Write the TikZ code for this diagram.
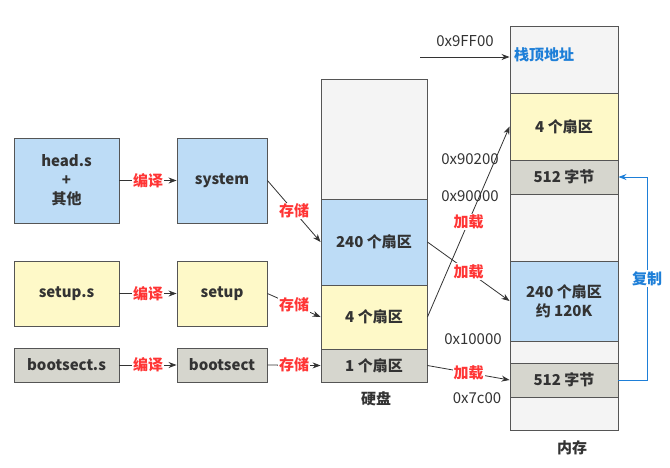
\documentclass[tikz,border=0pt]{standalone}
\usepackage{fontspec}
\setmainfont{Noto Sans CJK SC}
\usetikzlibrary{arrows.meta}
\definecolor{txt}{HTML}{333333}
\definecolor{edge}{HTML}{555555}
\definecolor{fblue}{HTML}{BDDCF6}
\definecolor{fyellow}{HTML}{FEF9C8}
\definecolor{fgray}{HTML}{D6D6CE}
\definecolor{fpale}{HTML}{F4F4F4}
\definecolor{lred}{HTML}{FF3535}
\definecolor{lblue}{HTML}{1E7FD8}
\begin{document}
\begin{tikzpicture}[x=1pt,y=-1pt,
  box/.style={draw=edge,line width=0.9pt,inner sep=0pt,align=center,
    font=\fontsize{15}{19}\selectfont\bfseries,text=txt},
  blk/.style={box,minimum width=106pt},
  mem/.style={box,minimum width=108pt},
  src/.style={box,minimum width=105pt},
  obj/.style={box,minimum width=90pt},
  conn/.style={draw=txt,line width=0.8pt,-{Stealth[length=8pt,width=6pt]}},
  act/.style={fill=white,inner sep=1pt,text=lred,
    font=\fontsize{15}{17}\selectfont\bfseries},
  addr/.style={text=txt,font=\fontsize{15}{17}\selectfont},
  title/.style={text=txt,font=\fontsize{15}{17}\selectfont\bfseries}]
\useasboundingbox (0,0) rectangle (670,467);

% source files and compiled images
\node[src,fill=fblue,minimum height=85pt] (heads) at (66.5,180.5) {head.s\\+\\其他};
\node[obj,fill=fblue,minimum height=85pt] (system) at (222,180.5) {system};
\node[src,fill=fyellow,minimum height=65pt] (setups) at (66.5,293.5) {setup.s};
\node[obj,fill=fyellow,minimum height=65pt] (setup) at (222,293.5) {setup};
\node[src,fill=fgray,minimum height=34pt] (boots) at (66.5,365) {bootsect.s};
\node[obj,fill=fgray,minimum height=34pt] (boot) at (222,365) {bootsect};

% disk layout
\node[blk,fill=fpale,minimum height=120pt] (dtop) at (374,139) {};
\node[blk,fill=fblue,minimum height=86pt] (d240) at (374,242) {240 个扇区};
\node[blk,fill=fyellow,minimum height=64pt] (d4) at (374,317) {4 个扇区};
\node[blk,fill=fgray,minimum height=33pt] (d1) at (374,365.5) {1 个扇区};
\node[title] (disk) at (376,399) {硬盘};

% memory layout
\node[mem,fill=fpale,minimum height=67pt] (mtop) at (564,59.5) {};
\node[mem,fill=fyellow,minimum height=67pt] (m4) at (564,126.5) {4 个扇区};
\node[mem,fill=fgray,minimum height=34pt] (msa) at (564,177) {512 字节};
\node[mem,fill=fpale,minimum height=67pt] (mgapa) at (564,227.5) {};
\node[mem,fill=fblue,minimum height=80pt] (m240) at (564,301) {240 个扇区\\约 120K};
\node[mem,fill=fpale,minimum height=22pt] (mgapb) at (564,352) {};
\node[mem,fill=fgray,minimum height=34pt] (msb) at (564,380) {512 字节};
\node[mem,fill=fpale,minimum height=33pt] (mbot) at (564,413.5) {};
\node[title] (ram) at (572,448) {内存};

% addresses
\node[addr] (a9ff) at (465,41) {0x9FF00};
\node[addr] (a902) at (470,159) {0x90200};
\node[addr] (a900) at (470,196) {0x90000};
\node[addr] (a100) at (473,339) {0x10000};
\node[addr] (a7c0) at (477,398) {0x7c00};
\node[anchor=west,inner sep=0pt,text=lblue,font=\fontsize{15}{17}\selectfont\bfseries] (stack) at (514,55) {栈顶地址};
\coordinate (sp) at (420,57);
\draw[conn] (sp) -- (mtop.west |- sp);

% compile
\draw[conn] (heads) -- node[act] {编译} (system);
\draw[conn] (setups) -- node[act] {编译} (setup);
\draw[conn] (boots) -- node[act] {编译} (boot);

% store on disk
\draw[conn] (system.east) -- node[act] {存储} (d240.west);
\draw[conn] (setup.east) -- node[act] {存储} (d4.west);
\draw[conn] (boot.east) -- node[act] {存储} (d1.west);

% load into memory
\draw[conn] (d4.east) -- node[act] {加载} (m4.west);
\draw[conn] (d240.east) -- node[act] {加载} (m240.west);
\draw[conn] (d1.east) -- node[act] {加载} (msb.west);

% bootsect copies itself
\coordinate (cp) at (647,380);
\draw[draw=lblue,line width=0.9pt,-{Stealth[length=8pt,width=6pt]}]
  (msb.east) -- (cp) -- node[fill=white,inner sep=1pt,text=lblue,
  font=\fontsize{15}{17}\selectfont\bfseries] {复制} (cp |- msa.east) -- (msa.east);
\end{tikzpicture}
\end{document}
